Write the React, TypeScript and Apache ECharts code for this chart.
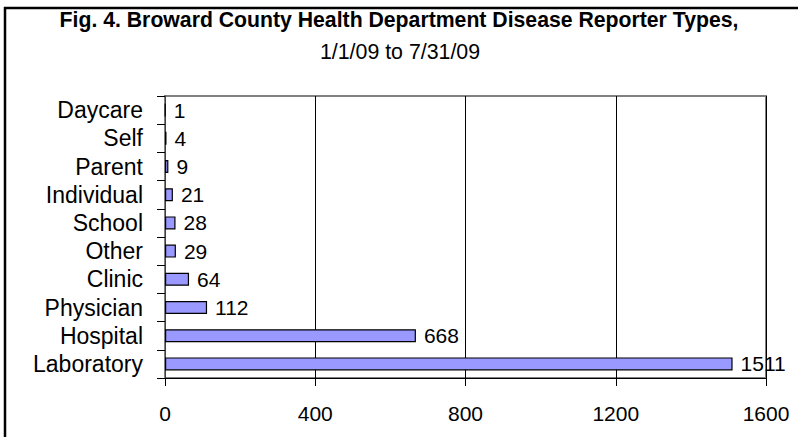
import React, { useEffect, useRef } from "react";
import * as echarts from "echarts";

const categories = ["Daycare", "Self", "Parent", "Individual", "School", "Other", "Clinic", "Physician", "Hospital", "Laboratory"];
const counts = [1, 4, 9, 21, 28, 29, 64, 112, 668, 1511];
const titleLine1 = "Fig. 4. Broward County Health Department Disease Reporter Types,";
const titleLine2 = "1/1/09 to 7/31/09";

const FONT = "Liberation Sans, Arial, sans-serif";

export default function App() {
  const ref = useRef<HTMLDivElement>(null);
  useEffect(() => {
    if (!ref.current) return;
    const chart = echarts.init(ref.current, undefined, { renderer: "svg" });
    chart.setOption({
      animation: false,
      backgroundColor: "#ffffff",
      graphic: [
        { type: "line", shape: { x1: 4, y1: 8, x2: 798, y2: 8 }, style: { stroke: "#000", lineWidth: 2.5 } },
        { type: "line", shape: { x1: 5, y1: 7, x2: 5, y2: 437 }, style: { stroke: "#000", lineWidth: 2.5 } },
        {
          type: "text",
          x: 399,
          y: 19.5,
          scaleX: 0.965,
          style: {
            text: titleLine1,
            textAlign: "center",
            textVerticalAlign: "middle",
            fontFamily: FONT,
            fontWeight: "bold",
            fontSize: 22,
            fill: "#000",
          },
        },
        {
          type: "text",
          x: 400,
          y: 51,
          scaleX: 0.97,
          style: {
            text: titleLine2,
            textAlign: "center",
            textVerticalAlign: "middle",
            fontFamily: FONT,
            fontWeight: "normal",
            fontSize: 22,
            fill: "#000",
          },
        },
      ],
      grid: {
        left: 165,
        right: 32,
        top: 96,
        bottom: 59,
        show: true,
        borderColor: "#808080",
        borderWidth: 2,
        backgroundColor: "transparent",
      },
      xAxis: {
        type: "value",
        min: 0,
        max: 1600,
        interval: 400,
        axisLine: { show: true, lineStyle: { color: "#000", width: 1 } },
        axisTick: { show: true, length: 8, lineStyle: { color: "#000" } },
        axisLabel: {
          margin: 25,
          fontFamily: FONT,
          fontSize: 21,
          color: "#000",
          formatter: (v: number) => String(v),
        },
        splitLine: { show: true, lineStyle: { color: "#000", width: 1 } },
      },
      yAxis: {
        type: "category",
        inverse: true,
        data: categories,
        axisLine: { show: true, lineStyle: { color: "#404040", width: 1 } },
        axisTick: { show: true, length: 8, alignWithLabel: false, interval: 0, lineStyle: { color: "#000" } },
        axisLabel: { margin: 22, interval: 0, fontFamily: FONT, fontSize: 23, color: "#000" },
        splitLine: { show: false },
      },
      series: [
        {
          type: "bar",
          data: counts,
          barWidth: 13,
          itemStyle: { color: "#9999FF", borderColor: "#000", borderWidth: 1.2 },
          label: {
            show: true,
            position: "right",
            distance: 8,
            fontFamily: FONT,
            fontSize: 21,
            color: "#000",
          },
        },
      ],
    });
    return () => chart.dispose();
  }, []);
  return <div ref={ref} style={{ position: "absolute", left: 0, top: 0, width: 798, height: 437 }} />;
}
